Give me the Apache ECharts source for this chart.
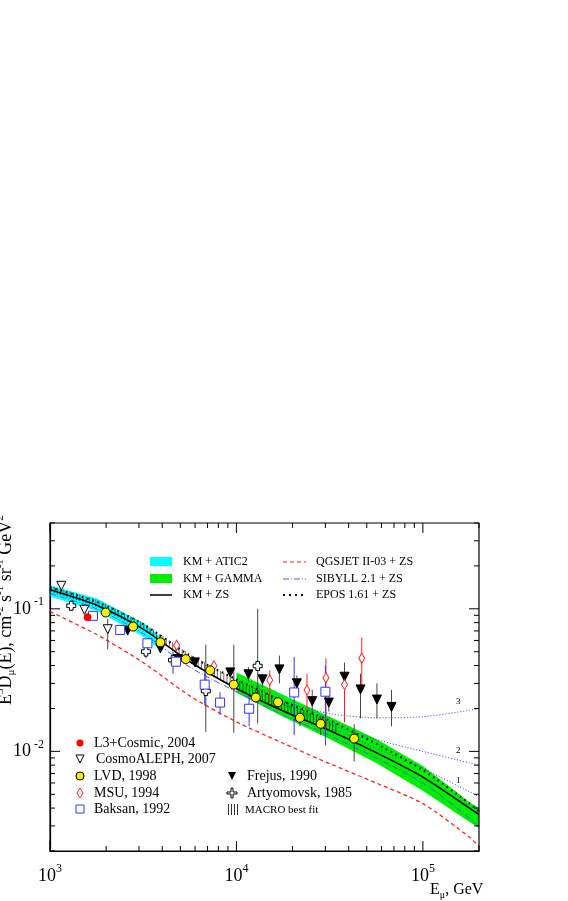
<!DOCTYPE html>
<html><head><meta charset="utf-8">
<script src="https://cdn.jsdelivr.net/npm/echarts@6/dist/echarts.min.js"></script>
<style>html,body{margin:0;padding:0;background:#fff}#c{width:568px;height:901px}</style>
</head><body><div id="c"></div>
<script>
// ---- curves [E, value] ----
const kmZS     = [[1000,0.136],[1780,0.106],[3160,0.072],[5620,0.0425],[10000,0.0276],[17800,0.0192],[31600,0.0140],[56200,0.0098],[100000,0.0066],[178000,0.0040],[200000,0.0036]];
const qgsjet   = [[1000,0.0957],[1780,0.066],[3160,0.042],[5620,0.0245],[10000,0.0161],[17800,0.0114],[31600,0.0082],[56200,0.0060],[100000,0.0043],[178000,0.0025],[200000,0.00215]];
const sibyll   = [[1000,0.128],[1780,0.100],[3160,0.067],[5620,0.039],[10000,0.0262],[17800,0.0180],[31600,0.0129],[56200,0.0090],[100000,0.0060],[178000,0.0034],[200000,0.0029]];
const epos     = [[1000,0.141],[1780,0.112],[3160,0.078],[5620,0.047],[10000,0.032],[17800,0.0225],[31600,0.0165],[56200,0.0113],[100000,0.0074],[178000,0.0043],[200000,0.0038]];
const curve3   = [[12000,0.030],[17800,0.0225],[31600,0.0184],[56200,0.0172],[100000,0.0175],[178000,0.0194],[200000,0.0200]];
const curve2   = [[17800,0.0215],[31600,0.0155],[56200,0.0121],[100000,0.0100],[178000,0.0083],[200000,0.0080]];
const curve1   = [[31600,0.0150],[56200,0.0105],[100000,0.0076],[178000,0.0052],[200000,0.0048]];
const curveLabels = [[155000,0.0225,'3'],[155000,0.0101,'2'],[155000,0.0062,'1']];
// bands: [E, lower, upper]
const atic2Band = [[1000,0.122,0.146],[1780,0.097,0.118],[3160,0.064,0.080],[4000,0.050,0.062]];
const gammaBand = [[10000,0.0258,0.0358],[17800,0.0175,0.0250],[31600,0.0122,0.0175],[56200,0.0083,0.0122],[100000,0.0053,0.0079],[178000,0.0032,0.0044],[200000,0.0029,0.0040]];
const macroBand = [[1000,0.131,0.146],[1780,0.104,0.116],[3160,0.071,0.080],[5620,0.042,0.048],[10000,0.027,0.032],[17800,0.0190,0.0225],[35000,0.0132,0.0155]];
// data points [E, value, errLow, errHigh]
const lvd   = [[1990,0.0942,0.090,0.099],[2790,0.0751,0.072,0.078],[3910,0.0582,0.056,0.061],[5350,0.0444,0.042,0.047],[7230,0.0370,0.035,0.039],[9680,0.0294,0.0135,0.056],[12700,0.0239,0.022,0.026],[16700,0.0221,0.020,0.024],[21900,0.0172,0.015,0.019],[28300,0.0156,0.013,0.018],[42800,0.0123,0.0085,0.0155]];
const frejus= [[2610,0.0704,0.066,0.075],[3910,0.0528,0.050,0.056],[4850,0.0444,0.042,0.047],[5990,0.0421,0.040,0.044],[9270,0.0358,0.033,0.039],[11600,0.0347,0.031,0.039],[13800,0.0320,0.028,0.035],[17000,0.0376,0.030,0.047],[21100,0.0300,0.025,0.034],[25500,0.0225,0.018,0.027],[31300,0.0220,0.019,0.026],[38000,0.0334,0.016,0.042],[46300,0.0272,0.017,0.035],[56700,0.0231,0.017,0.030],[67900,0.0205,0.015,0.027]];
const msu   = [[4780,0.0555,0.053,0.058],[7570,0.0399,0.038,0.042],[15100,0.0316,0.022,0.037],[23900,0.0269,0.019,0.035],[30200,0.0328,0.014,0.045],[38000,0.0294,0.016,0.036],[47000,0.0450,0.029,0.063]];
const baksan = [[1700,0.0893,0.086,0.093],[2380,0.0711,0.068,0.074],[3330,0.0573,0.055,0.060],[4740,0.0426,0.041,0.045],[6760,0.0294,0.021,0.036],[8170,0.0220,0.018,0.026],[11700,0.0199,0.015,0.025],[20400,0.0259,0.013,0.046],[30000,0.0262,0.011,0.040]];
const cosmoAleph = [[1150,0.145,0.140,0.150],[1530,0.0984,0.094,0.103],[2040,0.0719,0.052,0.085]];
const artyom = [[1300,0.105,0.101,0.109],[3270,0.0501,0.045,0.056],[4570,0.0437,0.035,0.050],[6850,0.0265,0.0137,0.056],[13000,0.0397,0.0157,0.10]];
const l3 = [[1590,0.0873,0.084,0.091]];
const xTicks = [1000,10000,100000];
const yTicks = [0.01,0.1];

const FONT = 'Liberation Serif';
const chart = echarts.init(document.getElementById('c'));
const XMIN=1000, XMAX=200000, YMIN=0.002, YMAX=0.4;

function line(name,data,color,type,width){
  return {name,type:'line',data,showSymbol:false,smooth:0.25,clip:true,z:4,
    lineStyle:{color,type,width}};
}
function band(data,color){
  return {type:'custom',clip:true,z:2,data:[0],renderItem:(p,api)=>{
    const up=data.map(d=>api.coord([d[0],d[2]])), lo=data.map(d=>api.coord([d[0],d[1]])).reverse();
    return {type:'polygon',shape:{points:up.concat(lo)},style:{fill:color}};
  }};
}
function interp(pts,x){for(let i=0;i<pts.length-1;i++){const a=pts[i],b=pts[i+1];if(x>=a[0]&&x<=b[0]){const t=(x-a[0])/(b[0]-a[0]);return a[1]+t*(b[1]-a[1]);}}return null;}
function hatch(data){
  return {type:'custom',clip:true,z:3,data:[0],renderItem:(p,api)=>{
    const up=data.map(d=>api.coord([d[0],d[2]])), lo=data.map(d=>api.coord([d[0],d[1]]));
    const ch=[];
    for(let x=up[0][0]+1;x<up[up.length-1][0];x+=3.2){
      const y1=interp(up,x), y2=interp(lo,x);
      ch.push({type:'line',shape:{x1:x,y1:y1,x2:x,y2:y2},style:{stroke:'#000',lineWidth:0.6}});
    }
    return {type:'group',children:ch};
  }};
}
function errs(data,color){
  return {type:'custom',clip:true,z:5,data,renderItem:(p,api)=>{
    const a=api.coord([api.value(0),api.value(2)]), b=api.coord([api.value(0),api.value(3)]);
    return {type:'line',shape:{x1:a[0],y1:a[1],x2:b[0],y2:b[1]},style:{stroke:color,lineWidth:1}};
  }};
}
function pts(data,symbol,size,fill,stroke,rot){
  return {type:'scatter',data:data.map(d=>[d[0],d[1]]),symbol,symbolSize:size,symbolRotate:rot||0,z:6,
    itemStyle:{color:fill,borderColor:stroke,borderWidth:1,opacity:1}};
}
const tickVals=[];
for(let d=1000;d<=100000;d*=10) for(let k=1;k<=9;k++){const v=d*k; if(v>=XMIN&&v<=XMAX) tickVals.push(['x',v,k===1]);}
for(let d=0.001;d<=0.1;d*=10) for(let k=1;k<=9;k++){const v=d*k; if(v>=YMIN*0.999&&v<=YMAX) tickVals.push(['y',v,k===1]);}
const ticks={type:'custom',clip:false,z:7,data:tickVals.map((t,i)=>[i]),renderItem:(p,api)=>{
  const t=tickVals[api.value(0)], L=t[2]?10:5, cs=p.coordSys;
  if(t[0]==='x'){const x=api.coord([t[1],YMIN])[0];
    return {type:'group',children:[
      {type:'line',shape:{x1:x,y1:cs.y+cs.height,x2:x,y2:cs.y+cs.height-L},style:{stroke:'#000',lineWidth:1}},
      {type:'line',shape:{x1:x,y1:cs.y,x2:x,y2:cs.y+L},style:{stroke:'#000',lineWidth:1}}]};}
  const y=api.coord([XMIN,t[1]])[1];
  return {type:'group',children:[
    {type:'line',shape:{x1:cs.x,y1:y,x2:cs.x+L,y2:y},style:{stroke:'#000',lineWidth:1}},
    {type:'line',shape:{x1:cs.x+cs.width,y1:y,x2:cs.x+cs.width-L,y2:y},style:{stroke:'#000',lineWidth:1}}]};
}};
const cLabels={type:'custom',clip:false,z:7,data:curveLabels.map(d=>[d[0],d[1]]),renderItem:(p,api)=>{
  const c=api.coord([api.value(0),api.value(1)]);
  return {type:'text',x:c[0],y:c[1],style:{text:curveLabels[p.dataIndex][2],font:'9px '+FONT,fill:'#000',align:'center',verticalAlign:'middle'}};
}};
const rich={b:{fontFamily:FONT,fontSize:18,color:'#000'},s:{fontFamily:FONT,fontSize:12,color:'#000',padding:[0,0,14,0]}};

const g=[];
function txt(x,y,s,fs){g.push({type:'text',x,y,style:{text:s,font:fs+'px '+FONT,fill:'#000',verticalAlign:'middle'}});}
function hl(x1,x2,y,color,dash,w){g.push({type:'line',shape:{x1,y1:y,x2,y2:y},style:{stroke:color,lineWidth:w||1,lineDash:dash}});}
g.push({type:'rect',shape:{x:150,y:557,width:22,height:9},style:{fill:'#00ffff'}}); txt(183,562,'KM + ATIC2',12);
g.push({type:'rect',shape:{x:150,y:574,width:22,height:9},style:{fill:'#00ee00'}}); txt(183,579,'KM + GAMMA',12);
hl(150,172,595,'#000',null,1.5); txt(183,595,'KM + ZS',12);
hl(283,306,562,'#ff2020',[4,3],1.2); txt(316,562,'QGSJET II-03 + ZS',12);
hl(283,306,579,'#5555ff',[6,2,1,2],1); txt(316,579,'SIBYLL 2.1 + ZS',12);
hl(283,306,595,'#000',[2,4],2.2); txt(316,595,'EPOS 1.61 + ZS',12);
txt(94,743,'L3+Cosmic, 2004',14); g.push({type:'circle',shape:{cx:80,cy:743,r:3.5},style:{fill:'#ff0000'}});
txt(96,759,'CosmoALEPH, 2007',14); g.push({type:'polygon',shape:{points:[[76,755],[84,755],[80,763]]},style:{fill:'#fff',stroke:'#000'}});
txt(94,776,'LVD, 1998',14); g.push({type:'circle',shape:{cx:80,cy:776,r:4},style:{fill:'#ffee00',stroke:'#000'}});
txt(94,793,'MSU, 1994',14); g.push({type:'polygon',shape:{points:[[80,788],[83,793],[80,798],[77,793]]},style:{fill:'#fff',stroke:'#ff2020'}});
txt(94,809,'Baksan, 1992',14); g.push({type:'rect',shape:{x:76,y:805,width:8,height:8},style:{fill:'#fff',stroke:'#3333ff'}});
txt(247,776,'Frejus, 1990',14); g.push({type:'polygon',shape:{points:[[228,772],[236,772],[232,780]]},style:{fill:'#000'}});
txt(247,793,'Artyomovsk, 1985',14); g.push({type:'polygon',shape:{points:[[231,788],[233,788],[233,792],[237,792],[237,794],[233,794],[233,798],[231,798],[231,794],[227,794],[227,792],[231,792]]},style:{fill:'#fff',stroke:'#000'}});
txt(245,810,'MACRO best fit',11); for(let i=0;i<4;i++) g.push({type:'line',shape:{x1:228.5+i*3,y1:804,x2:228.5+i*3,y2:815},style:{stroke:'#000',lineWidth:0.8}});
g.push({type:'text',x:430,y:890,style:{text:'{a|E}{b|μ}{a|, GeV}',rich:{a:{fontFamily:FONT,fontSize:16},b:{fontFamily:FONT,fontSize:10,padding:[10,0,0,0]}},verticalAlign:'middle'}});
g.push({type:'text',x:6,y:705,rotation:Math.PI/2,style:{text:'{a|E}{p|3}{a|D}{b|μ}{a|(E), cm}{p|-2}{a| s}{p|-1}{a| sr}{p|-1}{a| GeV}{p|2}',
  rich:{a:{fontFamily:FONT,fontSize:18},b:{fontFamily:FONT,fontSize:11,padding:[10,0,0,0]},p:{fontFamily:FONT,fontSize:11,padding:[0,0,12,0]}},verticalAlign:'middle'}});
g.push({type:'rect',shape:{x:0,y:0,width:40,height:512},style:{fill:'#fff'},z:50});

const crossPath='path://M3,0H7V3H10V7H7V10H3V7H0V3H3Z';
const option={
  animation:false,
  grid:{left:50,right:89,top:523,bottom:50},
  xAxis:{type:'log',logBase:10,min:XMIN,max:XMAX,
    axisLine:{show:true,lineStyle:{color:'#000',width:1.2}},axisTick:{show:false},splitLine:{show:false},
    axisLabel:{margin:12,customValues:xTicks,formatter:v=>'{b|10}{s|'+Math.round(Math.log10(v))+'}',rich}},
  yAxis:{type:'log',logBase:10,min:YMIN,max:YMAX,
    axisLine:{show:true,lineStyle:{color:'#000',width:1.2}},axisTick:{show:false},splitLine:{show:false},
    axisLabel:{margin:6,customValues:yTicks,formatter:v=>'{b|10}{s| '+Math.round(Math.log10(v))+'}',rich}},
  graphic:[{type:'rect',shape:{x:50,y:523,width:429,height:328},style:{fill:'none',stroke:'#000',lineWidth:1.2},z:100}].concat(g),
  series:[
    band(atic2Band,'#00ffff'), band(gammaBand,'#00ee00'), hatch(macroBand),
    line('QGSJET',qgsjet,'#ff2020',[4,3],1.3),
    line('SIBYLL',sibyll,'#5555ff',[6,2,1,2],1),
    line('EPOS',epos,'#000',[1.5,4],2.2),
    line('c3',curve3,'#3333ff',[1,2],1),
    line('c2',curve2,'#3333ff',[1,2],1),
    line('c1',curve1,'#3333ff',[1,2],1),
    line('KM+ZS',kmZS,'#000','solid',1.6),
    errs(frejus,'#444'), errs(artyom,'#444'), errs(cosmoAleph,'#444'), errs(lvd,'#444'),
    errs(msu,'#ff2020'), errs(baksan,'#3333ff'), errs(l3,'#ff0000'),
    pts(frejus,'triangle',9,'#000','#000',180),
    pts(cosmoAleph,'triangle',9,'#fff','#000',180),
    pts(artyom,crossPath,9,'#fff','#000'),
    pts(msu,'diamond',[6,10],'#fff','#ff2020'),
    pts(baksan,'rect',9,'#fff','#3333ff'),
    pts(l3,'circle',7,'#ff0000','#ff0000'),
    pts(lvd,'circle',9,'#ffee00','#000'),
    ticks, cLabels
  ]
};
chart.setOption(option);
</script></body></html>
